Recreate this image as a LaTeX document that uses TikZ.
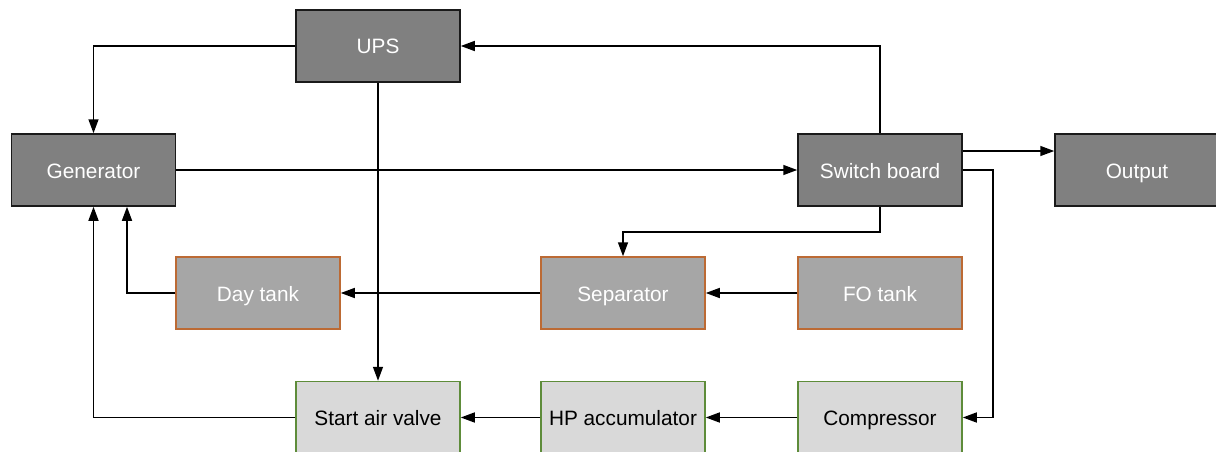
\documentclass[tikz,border=0pt]{standalone}
\usepackage{fontspec}
\setmainfont{Liberation Sans}
\usetikzlibrary{arrows.meta}
\definecolor{darkfill}{HTML}{808080}
\definecolor{midfill}{HTML}{A6A6A6}
\definecolor{lightfill}{HTML}{D9D9D9}
\definecolor{orangeline}{HTML}{BC6A34}
\definecolor{greenline}{HTML}{5E8C3A}
\definecolor{edgeline}{HTML}{1A1A1A}
\tikzset{
  box/.style={rectangle, minimum width=164pt, minimum height=72pt, inner sep=0pt, line width=1.5pt,
    text height=16pt, text depth=0pt,
    font=\fontsize{20.8}{24}\selectfont},
  darkbox/.style={box, fill=darkfill, draw=edgeline, text=white},
  midbox/.style={box, fill=midfill, draw=orangeline, text=white},
  lightbox/.style={box, fill=lightfill, draw=greenline, text=black},
  conn/.style={line width=1.5pt, draw=black, -{Triangle[length=14pt,width=10pt]}},
}
\begin{document}
\begin{tikzpicture}[x=1pt,y=-1pt]
\useasboundingbox (0,0) rectangle (1216,452);
\clip (0,0) rectangle (1216,452);
\node[darkbox] (ups) at (378,46) {UPS};
\node[darkbox] (gen) at (93.5,170) {Generator};
\node[darkbox] (sw) at (880,170) {Switch board};
\node[darkbox] (out) at (1137,170) {Output};
\node[midbox] (day) at (258,293) {Day tank};
\node[midbox] (sep) at (623,293) {Separator};
\node[midbox] (fo) at (880,293) {FO tank};
\node[lightbox] (sav) at (378,417.5) {Start air valve};
\node[lightbox] (hp) at (623,417.5) {HP accumulator};
\node[lightbox] (comp) at (880,417.5) {Compressor};
% connectors
\draw[conn] (ups.west) -| (gen.north);
\draw[conn] (sw.north) |- (ups.east);
\draw[conn] (ups.south) -- (sav.north);
\draw[conn] (gen.east) -- (sw.west);
\draw[conn] (sw.east |- 0,151) -- (out.west |- 0,151);
\coordinate (swr) at (993,170);
\draw[conn] (sw.east) -- (swr) |- (comp.east);
\coordinate (swb) at (880,232);
\draw[conn] (sw.south) -- (swb) -| (sep.north);
\draw[conn] (fo.west) -- (sep.east);
\draw[conn] (sep.west) -- (day.east);
\draw[conn] (day.west) -| (127,0 |- gen.south);
\draw[conn] (sav.west) -| (gen.south);
\draw[conn] (comp.west) -- (hp.east);
\draw[conn] (hp.west) -- (sav.east);
\end{tikzpicture}
\end{document}
